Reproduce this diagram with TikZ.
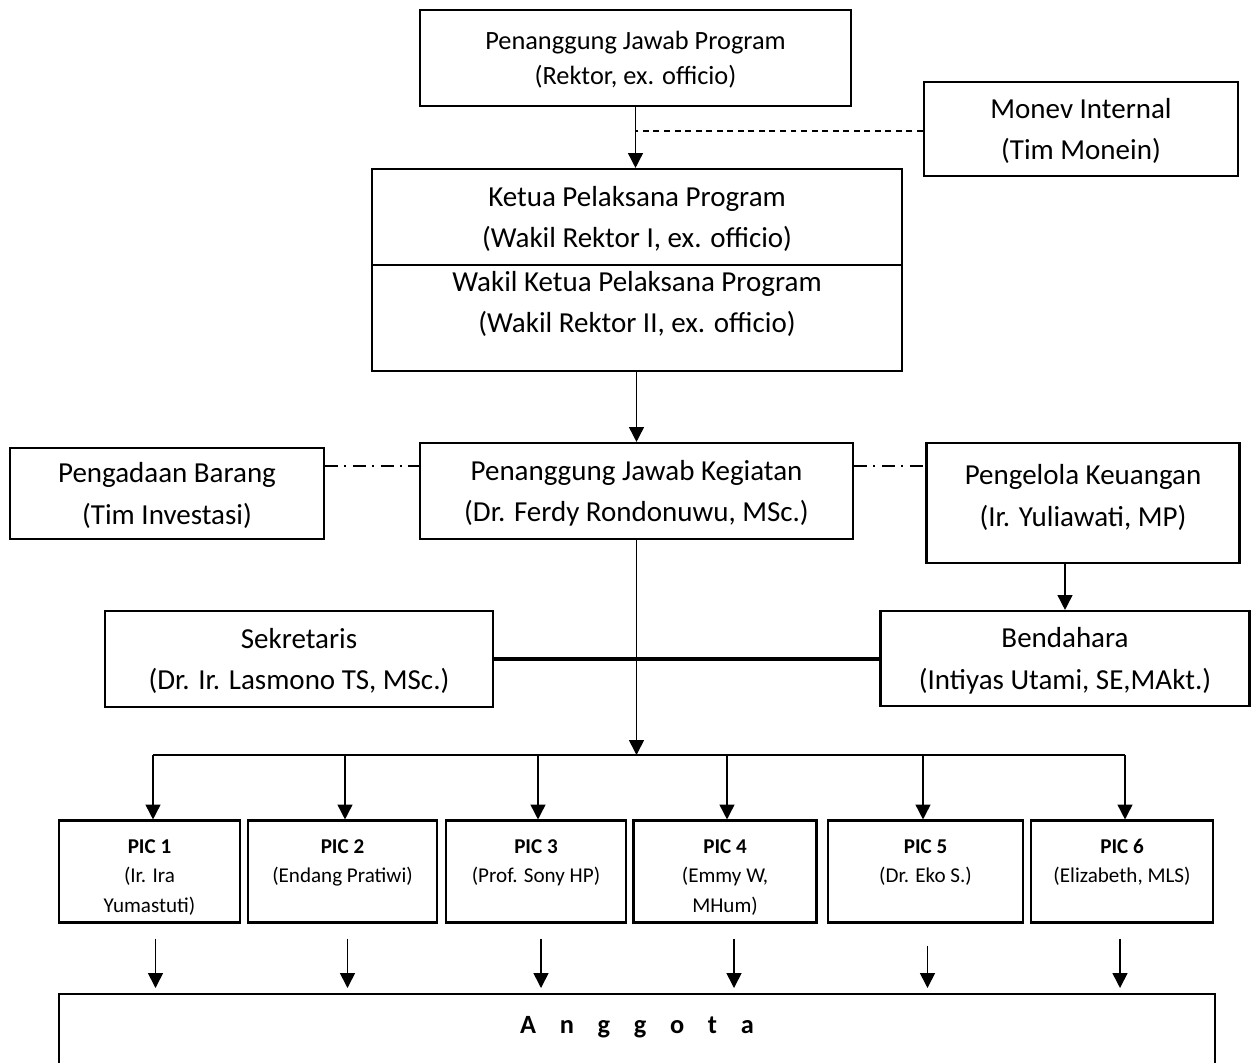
\documentclass[tikz,border=0pt]{standalone}
\usepackage{fontspec}
\setmainfont{Carlito}
\usetikzlibrary{arrows.meta,calc}

\tikzset{
  box/.style={draw, line width=1.2pt, align=center, inner sep=0pt, text depth=0pt,
    font=\fontsize{16.5}{23.5}\selectfont},
  topbox/.style={box, font=\fontsize{15}{20}\selectfont},
  picbox/.style={box, font=\fontsize{12}{17}\selectfont, minimum height=2.04cm,
    text height=50pt, text depth=3pt},
  twoline/.style={text height=33pt, text depth=20pt},
  arr/.style={line width=0.9pt, -{Triangle[length=8.5pt,width=8.5pt]}},
  link/.style={line width=1.2pt},
  dashlink/.style={line width=0.9pt, dash pattern=on 3.4pt off 2.6pt},
  dotlink/.style={line width=1.2pt, dash pattern=on 7.4pt off 3.6pt on 1.2pt off 3.6pt},
}

\begin{document}
\begin{tikzpicture}[x=0.02cm, y=-0.02cm]
  \useasboundingbox (0,0) rectangle (1254,1062);
  \clip (0,0) rectangle (1254,1062);

  % top levels
  \node[topbox, minimum width=8.62cm, minimum height=1.92cm] (prog) at (635.5,58)
    {Penanggung Jawab Program\\(Rektor, ex. officio)};
  \node[box, minimum width=6.28cm, minimum height=1.88cm, text depth=-7.6pt] (monev) at (1081,129)
    {Monev Internal\\(Tim Monein)};
  \node[box, minimum width=10.6cm, minimum height=1.92cm] (ketua) at (637,217)
    {Ketua Pelaksana Program\\(Wakil Rektor I, ex. officio)};
  \node[box, minimum width=10.6cm, minimum height=2.12cm, text depth=18.6pt] (wakil) at (637,318)
    {Wakil Ketua Pelaksana Program\\(Wakil Rektor II, ex. officio)};

  % kegiatan level
  \node[box, minimum width=8.66cm, minimum height=1.92cm] (pjk) at (636.5,491)
    {Penanggung Jawab Kegiatan\\(Dr. Ferdy Rondonuwu, MSc.)};
  \node[box, minimum width=6.28cm, minimum height=1.82cm, text depth=-5.4pt] (barang) at (167,493.5)
    {Pengadaan Barang\\(Tim Investasi)};
  \node[box, minimum width=6.26cm, minimum height=2.4cm, text depth=8.6pt] (keuangan) at (1083,503)
    {Pengelola Keuangan\\(Ir. Yuliawati, MP)};
  \node[box, minimum width=7.76cm, minimum height=1.92cm] (sekretaris) at (299,659)
    {Sekretaris\\(Dr. Ir. Lasmono TS, MSc.)};
  \node[box, minimum width=7.38cm, minimum height=1.9cm] (bendahara) at (1065,658.5)
    {Bendahara\\(Intiyas Utami, SE,MAkt.)};

  % PIC
  \node[picbox, minimum width=3.62cm] (pic1) at (149.5,871.5)
    {\textbf{PIC 1}\\(Ir. Ira\\Yumastuti)};
  \node[picbox, twoline, minimum width=3.78cm] (pic2) at (342.5,871.5)
    {\textbf{PIC 2}\\(Endang Pratiwi)};
  \node[picbox, twoline, minimum width=3.6cm] (pic3) at (536,871.5)
    {\textbf{PIC 3}\\(Prof. Sony HP)};
  \node[picbox, minimum width=3.66cm] (pic4) at (725,871.5)
    {\textbf{PIC 4}\\(Emmy W,\\MHum)};
  \node[picbox, twoline, minimum width=3.9cm] (pic5) at (925.5,871.5)
    {\textbf{PIC 5}\\(Dr. Eko S.)};
  \node[picbox, twoline, minimum width=3.64cm] (pic6) at (1122,871.5)
    {\textbf{PIC 6}\\(Elizabeth, MLS)};

  \node[box, anchor=north, minimum width=23.12cm, minimum height=1.56cm, text depth=9pt,
    font=\fontsize{15}{18}\bfseries] (anggota) at (637,993)
    {\spaceskip=0.9em A n g g o t a};

  % connectors
  \coordinate (bus) at (0,755);
  \coordinate (side) at (0,466);
  \draw[arr] (prog.south) -- (prog.south |- ketua.north);
  \draw[dashlink] (monev.west |- 0,131) -- (prog.south |- 0,131);
  \draw[arr] (pjk.north |- wakil.south) -- (pjk.north);
  \draw[dotlink] (barang.east |- side) -- (pjk.west |- side);
  \draw[dotlink] (pjk.east |- side) -- (keuangan.west |- side);
  \draw[arr] (bendahara.north |- keuangan.south) -- (bendahara.north);
  \draw[line width=1.8pt] (sekretaris.east) -- (sekretaris.east -| bendahara.west);
  \draw[arr] (pjk.south) -- (pjk.south |- bus);
  \draw[link] ($(pic1.north |- bus)+(3.5,0)$) -- ($(pic6.north |- bus)+(3,0)$);
  \foreach \p/\u in {pic1/3.5,pic2/2.5,pic3/2,pic4/2,pic5/-2.5,pic6/3}
    \draw[arr] ($(\p.north |- bus)+(\u,0)$) -- ($(\p.north)+(\u,0)$);
  \foreach \p/\d/\s in {pic1/6/0.3cm,pic2/5/0.3cm,pic3/5/0.3cm,pic4/9/0.3cm,pic5/2/0.44cm,pic6/-2/0.3cm}
    \draw[arr, shorten <=\s, shorten >=0.1cm] ($(\p.south)+(\d,0)$) -- ($(\p.south |- anggota.north)+(\d,0)$);
\end{tikzpicture}
\end{document}
